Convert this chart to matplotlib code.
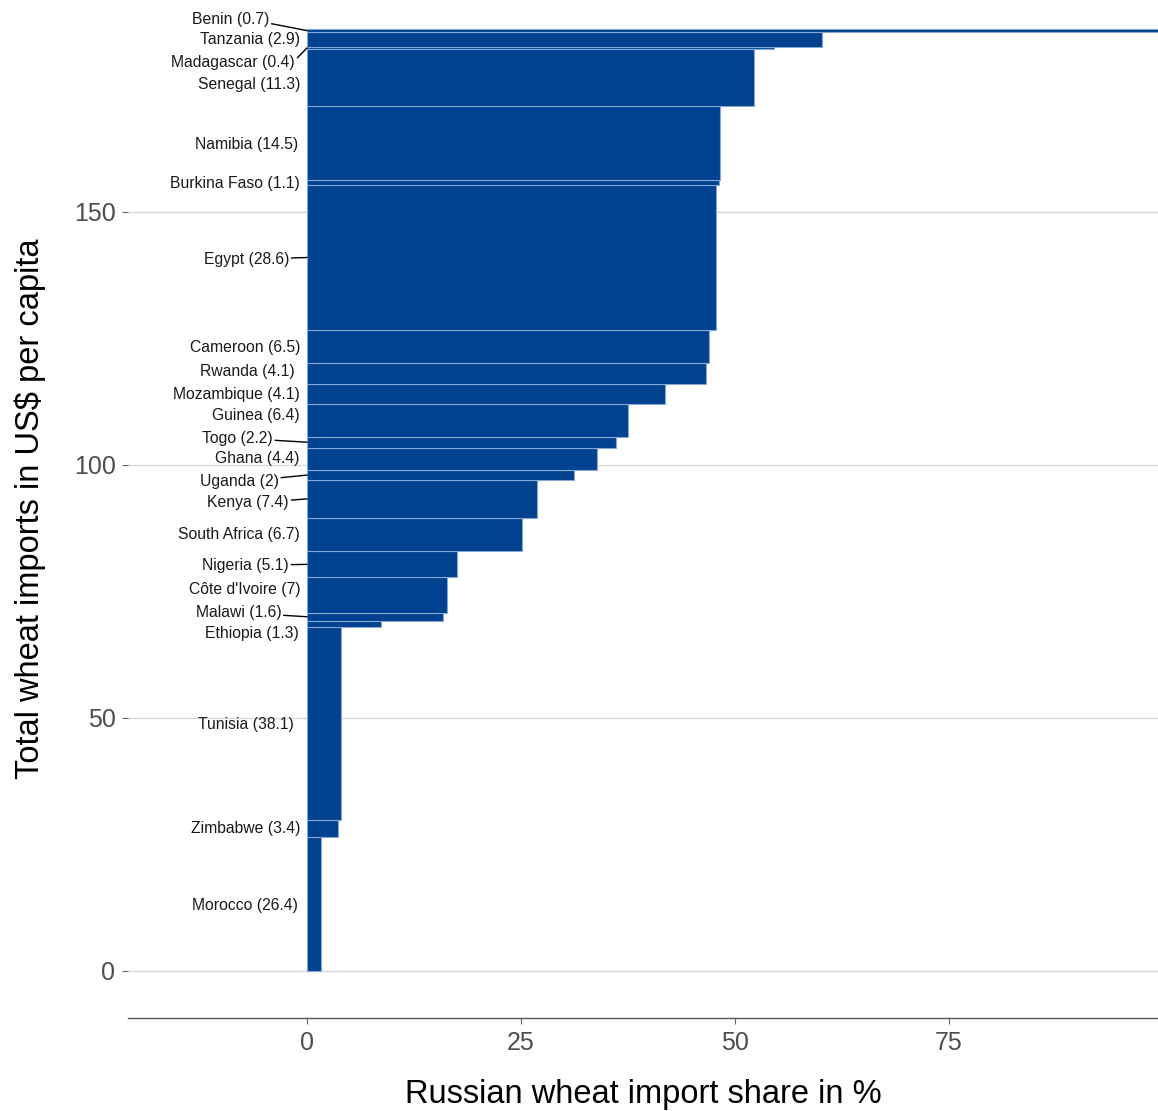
import numpy as np
import matplotlib.pyplot as plt

plt.rcParams['font.family'] = ['Liberation Sans', 'DejaVu Sans']

# countries from bottom to top of the stack
countries = ['Morocco', 'Zimbabwe', 'Tunisia', 'Ethiopia', 'Malawi', "Côte d'Ivoire",
             'Nigeria', 'South Africa', 'Kenya', 'Uganda', 'Ghana', 'Togo', 'Guinea',
             'Mozambique', 'Rwanda', 'Cameroon', 'Egypt', 'Burkina Faso', 'Namibia',
             'Senegal', 'Madagascar', 'Tanzania', 'Benin']
# total wheat imports in US$ per capita (bar height)
imports_pc = [26.4, 3.4, 38.1, 1.3, 1.6, 7, 5.1, 6.7, 7.4, 2, 4.4, 2.2, 6.4,
              4.1, 4.1, 6.5, 28.6, 1.1, 14.5, 11.3, 0.4, 2.9, 0.7]
# Russian share of wheat imports in % (bar length)
russian_share = [1.6, 3.6, 4.0, 8.6, 15.9, 16.4, 17.5, 25.1, 26.9, 31.2, 33.9, 36.1, 37.5,
                 41.8, 46.6, 47.0, 47.8, 48.1, 48.2, 52.2, 54.6, 60.2, 100]

# label placement (repelled text), right edge x and centre y in data units
label_x = [-1.05, -0.8, -1.5, -0.9, -3.0, -0.8, -2.1, -0.8, -2.1, -3.3, -0.9, -4.0, -0.9,
           -0.8, -1.4, -0.8, -2.1, -0.8, -1.05, -0.8, -1.4, -0.8, -4.4]
label_y = [13.0, 28.1, 48.8, 66.6, 70.8, 75.3, 80.2, 86.2, 92.5, 96.8, 101.2, 105.3, 109.7,
           114.0, 118.4, 123.3, 140.7, 155.7, 163.4, 175.1, 179.6, 184.0, 188.1]
leader = ['Malawi', 'Nigeria', 'Kenya', 'Uganda', 'Togo', 'Egypt', 'Madagascar', 'Benin']

heights = np.array(imports_pc)
bottoms = np.concatenate([[0], np.cumsum(heights)[:-1]])
centres = bottoms + heights / 2

fig = plt.figure(figsize=(11.58, 11.11), dpi=100)
ax = fig.add_axes([128 / 1158, 1 - 1018 / 1111, 1 - 128 / 1158, 1018 / 1111])

ax.barh(bottoms, russian_share, height=heights, left=0, align='edge',
        color='#00428f', edgecolor='#86a8d6', linewidth=0.8, zorder=2)

for i, name in enumerate(countries):
    txt = f'{name} ({imports_pc[i]:g})'
    ax.text(label_x[i], label_y[i], txt, ha='right', va='center', fontsize=11.3,
            color='#1a1a1a', zorder=3)
    if name in leader:
        # segment leaves the label box on the line from its centre to the bar
        half_w = len(txt) * 0.5 * 15.7 / 8.56 / 2
        frac = half_w / (half_w - label_x[i])
        sy = label_y[i] + (centres[i] - label_y[i]) * frac
        sy = min(max(sy, label_y[i] - 0.9), label_y[i] + 0.9)
        ax.plot([label_x[i] + 0.3, 0], [sy, centres[i]], color='black', lw=1.0,
                zorder=3, clip_on=False)

ax.set_xlim(-20.9, 99.4)
ax.set_ylim(-9.3, 971 / 5.06)
ax.set_yticks([0, 50, 100, 150])
ax.set_xticks([0, 25, 50, 75])
ax.grid(axis='y', color='#d9d9d9', lw=1.0, zorder=0)
ax.grid(axis='x', visible=False)
for s in ['top', 'right', 'left']:
    ax.spines[s].set_visible(False)
ax.spines['bottom'].set_color('#555555')
ax.spines['bottom'].set_linewidth(1.0)
ax.tick_params(axis='both', colors='#666666', labelsize=18, length=4, width=0.8,
               labelcolor='#4d4d4d', pad=5)

ax.set_xlabel('Russian wheat import share in %', fontsize=23.5, labelpad=18)
ax.set_ylabel('Total wheat imports in US$ per capita', fontsize=23.5, labelpad=20)

fig.savefig('out.png', dpi=100)
